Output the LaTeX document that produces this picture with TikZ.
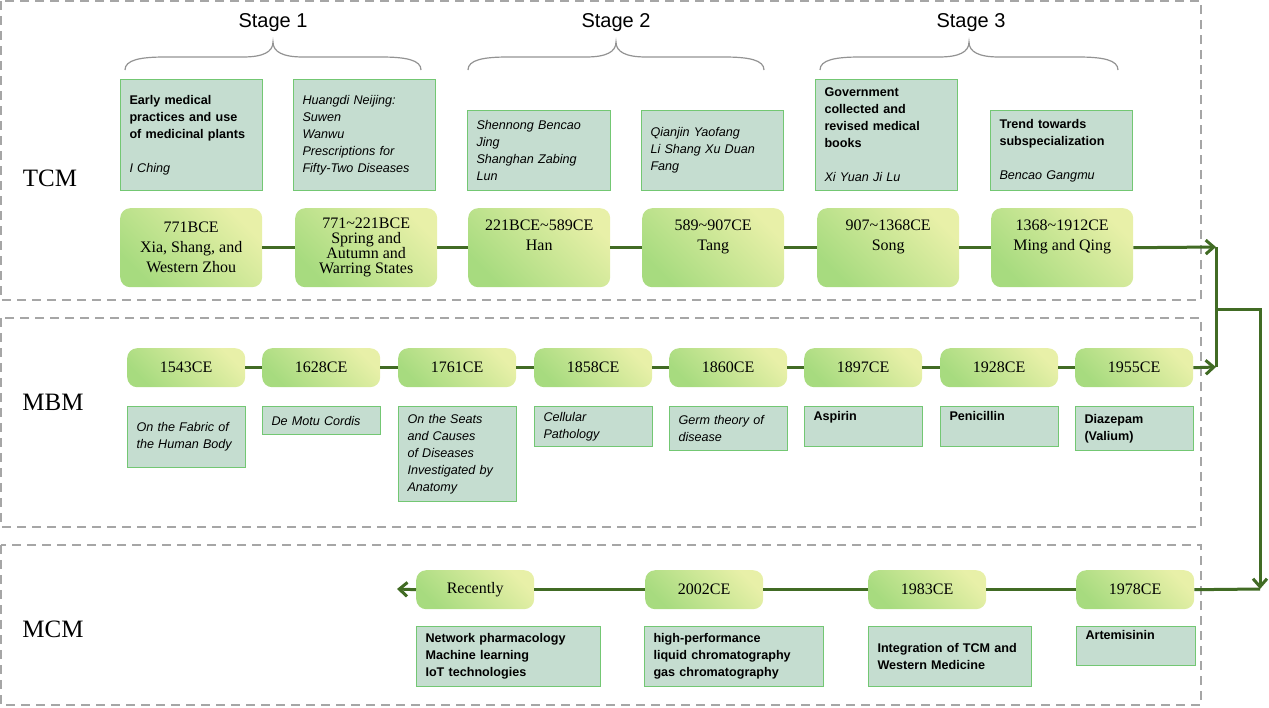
\documentclass[tikz,border=0pt]{standalone}
\usepackage{fontspec}
\setmainfont{Liberation Serif}
\setsansfont{Liberation Sans}
\hyphenpenalty=10000
\exhyphenpenalty=10000
\begin{document}
\begin{tikzpicture}[x=1pt,y=-1pt,
  frame/.style={draw=gray!70,line width=2pt,dash pattern=on 9pt off 6pt},
  tbox/.style={draw=green!60!black!55,line width=1pt,fill=tbg,anchor=north west,inner xsep=9pt,inner ysep=4pt,text width=#1,align=left,font=\sffamily\fontsize{12.6}{17}\selectfont},
  dbox/.style={rounded corners=10pt,left color=dA,right color=dB,shading angle=135,anchor=north west,minimum width=#1,align=center,font=\fontsize{16}{20}\selectfont,inner sep=0pt},
  conn/.style={draw=cg,line width=3pt},
  arr/.style={draw=cg,line width=3pt,-{Straight Barb[length=8pt,width=14pt]}},
  brace/.style={draw=gray!85,line width=1.2pt},
  stage/.style={font=\sffamily\fontsize{20}{20}\selectfont},
  row/.style={font=\fontsize{25}{25}\selectfont}]
\usetikzlibrary{arrows.meta}
\definecolor{tbg}{HTML}{C5DDD0}
\definecolor{dA}{HTML}{A7DB7F}
\definecolor{dB}{HTML}{E8F0A8}
\definecolor{cg}{HTML}{416B24}
\useasboundingbox (0,0) rectangle (1269,707);
\draw[frame] (1,1) rectangle (1201,300);
\draw[frame] (1,318) rectangle (1201,527);
\draw[frame] (1,545) rectangle (1201,705);
\node[row] (rT) at (50,178) {TCM};
\node[row] (rM) at (53,402) {MBM};
\node[row] (rC) at (53,629) {MCM};
\node[stage] (s1) at (273,23) {Stage 1};
\node[stage] (s2) at (616,23) {Stage 2};
\node[stage] (s3) at (971,23) {Stage 3};
\foreach \a/\m in {125/273,468/616,820/969}{
  \pgfmathsetmacro\b{2*\m-\a}
  \draw[brace] (\a,70) .. controls (\a,60) and (\a+15,57) .. (\a+40,57) -- (\m-30,57) .. controls (\m-10,57) and (\m,52) .. (\m,42)
     .. controls (\m,52) and (\m+10,57) .. (\m+30,57) -- (\b-40,57) .. controls (\b-15,57) and (\b,60) .. (\b,70);
}
% TCM text boxes
\node[tbox=124pt,minimum height=111pt] (b1) at (120,79) {\textbf{Early medical practices and use of medicinal plants}\\[17pt]\textit{I Ching}};
\node[tbox=124pt,minimum height=111pt] (b2) at (293,79) {\textit{Huangdi Neijing:}\\\textit{Suwen}\\\textit{Wanwu}\\\textit{Prescriptions for Fifty-Two Diseases}};
\node[tbox=125pt,minimum height=80pt] (b3) at (467,110) {\textit{Shennong Bencao Jing}\\\textit{Shanghan Zabing Lun}};
\node[tbox=124pt,minimum height=80pt] (b4) at (641,110) {\textit{Qianjin Yaofang}\\\textit{Li Shang Xu Duan Fang}};
\node[tbox=124pt,minimum height=111pt] (b5) at (815,79) {\textbf{Government collected and revised medical books}\\[17pt]\textit{Xi Yuan Ji Lu}};
\node[tbox=124pt,minimum height=80pt] (b6) at (990,110) {\textbf{Trend towards subspecialization}\\[17pt]\textit{Bencao Gangmu}};
% TCM dates
\node[dbox=142pt,minimum height=79pt] (t1) at (120,208) {771BCE\\Xia, Shang, and\\Western Zhou};
\node[dbox=142pt,minimum height=79pt,font=\fontsize{16}{15}\selectfont] (t2) at (295,208) {771\textasciitilde221BCE\\Spring and\\Autumn and\\Warring States};
\foreach \n/\x/\t in {t3/468/{221BCE\textasciitilde589CE\\Han},t4/642/{589\textasciitilde907CE\\Tang},t5/817/{907\textasciitilde1368CE\\Song},t6/991/{1368\textasciitilde1912CE\\Ming and Qing}}
  \node[dbox=142pt,minimum height=79pt] (\n) at (\x,208) {\t\\\strut};
\foreach \a/\b in {t1/t2,t2/t3,t3/t4,t4/t5,t5/t6} \draw[conn] (\a) -- (\b);
% MBM
\foreach \n/\x/\t in {m1/127/1543CE,m2/262/1628CE,m3/398/1761CE,m4/534/1858CE,m5/669/1860CE,m6/804/1897CE,m7/940/1928CE,m8/1075/1955CE}
  \node[dbox=118pt,minimum height=39pt] (\n) at (\x,348) {\t};
\foreach \a/\b in {m1/m2,m2/m3,m3/m4,m4/m5,m5/m6,m6/m7,m7/m8} \draw[conn] (\a) -- (\b);
\node[tbox=100pt,minimum height=61pt] (n1) at (127,406) {\textit{On the Fabric of the Human Body}};
\node[tbox=100pt,minimum height=28pt] (n2) at (262,406) {\textit{De Motu Cordis}};
\node[tbox=100pt,minimum height=95pt] (n3) at (398,406) {\textit{On the Seats and Causes of Diseases Investigated by Anatomy}};
\node[tbox=100pt,minimum height=40pt] (n4) at (534,406) {\textit{Cellular Pathology}};
\node[tbox=100pt,minimum height=44pt] (n5) at (669,406) {\textit{Germ theory of disease}};
\node[tbox=100pt,minimum height=40pt] (n6) at (804,406) {\textbf{Aspirin}\\\strut};
\node[tbox=100pt,minimum height=40pt] (n7) at (940,406) {\textbf{Penicillin}\\\strut};
\node[tbox=100pt,minimum height=44pt] (n8) at (1075,406) {\textbf{Diazepam (Valium)}};
% MCM
\foreach \n/\x/\t in {c1/416/Recently,c2/645/2002CE,c3/868/1983CE,c4/1076/1978CE}
  \node[dbox=118pt,minimum height=39pt] (\n) at (\x,570) {\t};
\coordinate (cend) at (397,589);
\draw[conn] (c4) -- (c3);
\draw[conn] (c3) -- (c2);
\draw[conn] (c2) -- (c1);
\draw[arr] (c1.west) -- (cend);
\node[tbox=166pt,minimum height=60pt] (k1) at (416,626) {\textbf{Network pharmacology}\\\textbf{Machine learning}\\\textbf{IoT technologies}};
\node[tbox=161pt,minimum height=60pt] (k2) at (644,626) {\textbf{high-performance}\\\textbf{liquid chromatography}\\\textbf{gas chromatography}};
\node[tbox=145pt,minimum height=60pt] (k3) at (868,626) {\textbf{Integration of TCM and Western Medicine}};
\node[tbox=101pt,minimum height=39pt] (k4) at (1076,626) {\textbf{Artemisinin}\\\strut};
% cross-row connectors
\coordinate (j1) at (1216,247);
\coordinate (j2) at (1216,367);
\coordinate (j3) at (1216,309);
\coordinate (j4) at (1260,589);
\draw[arr] (t6.east) -- (j1);
\draw[arr] (m8.east) -- (j2);
\draw[conn] (j1) -- (j2);
\draw[arr] (j3) -| (j4);
\draw[conn] (c4.east) -- (j4);
\end{tikzpicture}
\end{document}
